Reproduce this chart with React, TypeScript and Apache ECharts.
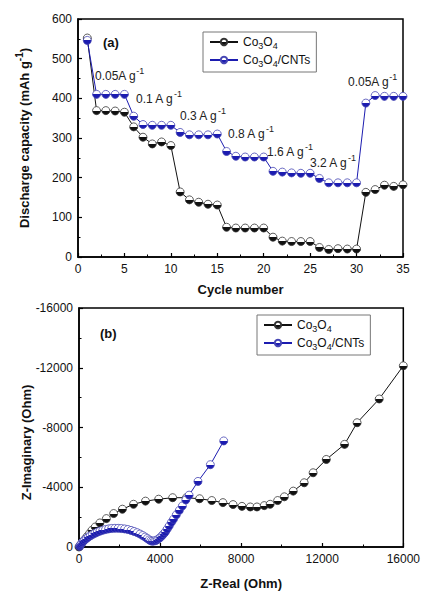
import React, { useEffect, useRef } from "react";
import * as echarts from "echarts";

const cycles = [1,2,3,4,5,6,7,8,9,10,11,12,13,14,15,16,17,18,19,20,21,22,23,24,25,26,27,28,29,30,31,32,33,34,35];
const co3o4Cap = [552,369,369,368,365,328,302,285,290,281,164,144,138,133,131,75,73,73,73,73,50,40,39,39,39,24,19,21,20,20,163,170,181,178,182];
const cntCap = [546,410,410,410,410,355,334,332,332,332,314,308,308,308,310,266,254,252,252,252,216,214,212,211,211,198,187,187,187,187,388,407,405,405,405];

const co3o4Real = [0,40,100,180,280,400,520,640,800,1030,1350,1710,2140,2690,3280,3930,4620,5300,5950,6550,7100,7600,8040,8450,8780,9140,9430,9800,10130,10570,11110,11550,12200,13100,13720,14810,16000];
const co3o4Imag = [0,-60,-180,-330,-500,-700,-900,-1120,-1340,-1610,-1900,-2240,-2530,-2860,-3070,-3200,-3300,-3300,-3230,-3110,-2970,-2840,-2720,-2680,-2680,-2770,-2860,-3110,-3360,-3740,-4300,-4970,-5860,-6870,-8320,-9910,-12130];

const cntReal = [30,60,100,150,210,280,360,450,550,660,780,900,1030,1170,1310,1460,1610,1770,1930,2090,2250,2410,2570,2720,2870,3010,3140,3260,3370,3460,3540,3620,3700,3780,3860,3940,4020,4100,4180,4260,4350,4450,4560,4660,4800,4950,5100,5270,5430,5870,6480,7140];
const cntImag = [-40,-120,-200,-290,-380,-470,-560,-650,-740,-830,-910,-990,-1060,-1120,-1170,-1210,-1240,-1250,-1250,-1235,-1210,-1170,-1110,-1040,-960,-870,-770,-670,-570,-480,-420,-390,-400,-430,-480,-560,-650,-760,-880,-1010,-1200,-1410,-1650,-1850,-2150,-2450,-2750,-3150,-3470,-4390,-5510,-7100];

const xTicksA = { min: 0, max: 35, interval: 5 };
const yTicksA = { min: 0, max: 600, interval: 100 };
const xTicksB = { min: 0, max: 16000, interval: 4000 };
const yTicksB = { min: -16000, max: 0, interval: 4000 };

const rateLabels = [
  { t: "0.05A g", x: 95, y: 76 },
  { t: "0.1 A g", x: 136, y: 99 },
  { t: "0.3 A g", x: 180, y: 116 },
  { t: "0.8 A g", x: 228, y: 134 },
  { t: "1.6 A g", x: 267, y: 152 },
  { t: "3.2 A g", x: 310, y: 163 },
  { t: "0.05A g", x: 348, y: 82 },
];

const FONT = "'Liberation Sans', Arial, sans-serif";

function halfFill(c: string) {
  return new echarts.graphic.LinearGradient(0, 0, 0, 1, [
    { offset: 0, color: "#ffffff" },
    { offset: 0.5, color: "#ffffff" },
    { offset: 0.5, color: c },
    { offset: 1, color: c },
  ]);
}

const BLACK = "#111111";
const BLUE = "#1c1cb0";

function axisCommon(min: number, max: number, interval: number) {
  return {
    type: "value" as const,
    min,
    max,
    interval,
    nameMoveOverlap: false,
    axisLine: { show: true, lineStyle: { color: "#000", width: 1.5 } },
    axisTick: { show: true, inside: true, length: 4, lineStyle: { color: "#000", width: 1.2 } },
    minorTick: { show: true, splitNumber: 2, length: 2.5, lineStyle: { color: "#000", width: 1 } },
    splitLine: { show: false },
    axisLabel: { color: "#111", fontSize: 12, fontFamily: FONT, margin: 6, formatter: (v: number) => String(v) },
    nameTextStyle: { color: "#111", fontSize: 13, fontWeight: "bold" as const, fontFamily: FONT },
    nameLocation: "middle" as const,
  };
}

const legendRich = {
  n: { fontSize: 12, fontFamily: FONT, color: "#111", lineHeight: 16 },
  b: { fontSize: 9, fontFamily: FONT, color: "#111", lineHeight: 9, verticalAlign: "bottom" },
};

function legendFmt(name: string) {
  return name === "Co3O4" ? "{n|Co}{b|3}{n|O}{b|4}" : "{n|Co}{b|3}{n|O}{b|4}{n|/CNTs}";
}

export default function App() {
  const ref = useRef<HTMLDivElement>(null);
  useEffect(() => {
    if (!ref.current) return;
    const chart = echarts.init(ref.current, undefined, { renderer: "svg" });
    const mkSeries = (name: string, color: string, data: number[][], xi: number, yi: number) => ({
      name,
      type: "line" as const,
      xAxisIndex: xi,
      yAxisIndex: yi,
      data,
      symbol: "circle",
      symbolSize: 8,
      showSymbol: true,
      lineStyle: { color, width: 1 },
      itemStyle: { color: halfFill(color), borderColor: color === BLACK ? "#333" : "#4646b4", borderWidth: 0.8 },
      emphasis: { disabled: true },
    });
    const seriesA1 = mkSeries("Co3O4", BLACK, cycles.map((c, i) => [c, co3o4Cap[i]]), 0, 0);
    const seriesA2 = mkSeries("Co3O4/CNTs", BLUE, cycles.map((c, i) => [c, cntCap[i]]), 0, 0);
    const seriesB1 = mkSeries("Co3O4", BLACK, co3o4Real.map((x, i) => [x, co3o4Imag[i]]), 1, 1);
    const seriesB2 = mkSeries("Co3O4/CNTs", BLUE, cntReal.map((x, i) => [x, cntImag[i]]), 1, 1);

    const legendBase = {
      orient: "vertical" as const,
      backgroundColor: "#fff",
      borderColor: "#777",
      borderWidth: 1,
      borderRadius: 0,
      padding: [4, 6, 4, 6],
      itemGap: 4,
      itemWidth: 28,
      itemHeight: 8,
      formatter: legendFmt,
      textStyle: { rich: legendRich, fontSize: 12, fontFamily: FONT },
      data: ["Co3O4", "Co3O4/CNTs"],
      selectedMode: false as const,
    };

    chart.setOption({
      animation: false,
      backgroundColor: "#fff",
      grid: [
        { left: 78, right: 20, top: 19, height: 238, show: true, borderColor: "#000", borderWidth: 1.5, backgroundColor: "transparent" },
        { left: 79, right: 17, top: 308, height: 239, show: true, borderColor: "#000", borderWidth: 1.5, backgroundColor: "transparent" },
      ],
      xAxis: [
        { ...axisCommon(xTicksA.min, xTicksA.max, xTicksA.interval), gridIndex: 0, name: "Cycle number", nameGap: 26 },
        { ...axisCommon(xTicksB.min, xTicksB.max, xTicksB.interval), gridIndex: 1, name: "Z-Real (Ohm)", nameGap: 30 },
      ],
      yAxis: [
        {
          ...axisCommon(yTicksA.min, yTicksA.max, yTicksA.interval),
          gridIndex: 0,
          name: "Discharge capacity (mAh g{s|-1})",
          nameGap: 44,
          nameTextStyle: {
            color: "#111", fontSize: 13, fontWeight: "bold", fontFamily: FONT,
            rich: { s: { fontSize: 10, fontWeight: "bold", fontFamily: FONT, color: "#111", verticalAlign: "top", lineHeight: 10 } },
            lineHeight: 20,
          },
        },
        {
          ...axisCommon(yTicksB.min, yTicksB.max, yTicksB.interval),
          gridIndex: 1,
          inverse: true,
          name: "Z-Imaginary (Ohm)",
          nameGap: 46,
          nameTextStyle: { color: "#111", fontSize: 13, fontWeight: "bold", fontFamily: FONT, padding: [0, 30, 0, 0] },
        },
      ],
      legend: [
        { ...legendBase, left: 203, top: 32 },
        { ...legendBase, left: 257, top: 315 },
      ],
      series: [seriesA1, seriesA2, seriesB1, seriesB2],
      graphic: [
        { type: "text", x: 103, y: 42, style: { text: "(a)", fontSize: 13, fontWeight: "bold", fontFamily: FONT, fill: "#111", verticalAlign: "middle" } },
        { type: "text", x: 100, y: 333, style: { text: "(b)", fontSize: 13, fontWeight: "bold", fontFamily: FONT, fill: "#111", verticalAlign: "middle" } },
        ...rateLabels.map((r) => ({
          type: "text",
          x: r.x,
          y: r.y,
          style: {
            text: `{n|${r.t}}{s|-1}`,
            fontFamily: FONT,
            verticalAlign: "middle",
            rich: {
              n: { fontSize: 12, fontFamily: FONT, fill: "#222", color: "#222", lineHeight: 20 },
              s: { fontSize: 9, fontFamily: FONT, fill: "#222", color: "#222", lineHeight: 9, verticalAlign: "top" },
            },
          },
        })),
      ],
    });
    return () => chart.dispose();
  }, []);
  return <div ref={ref} style={{ position: "fixed", left: 0, top: 0, width: 423, height: 594, background: "#fff" }} />;
}
